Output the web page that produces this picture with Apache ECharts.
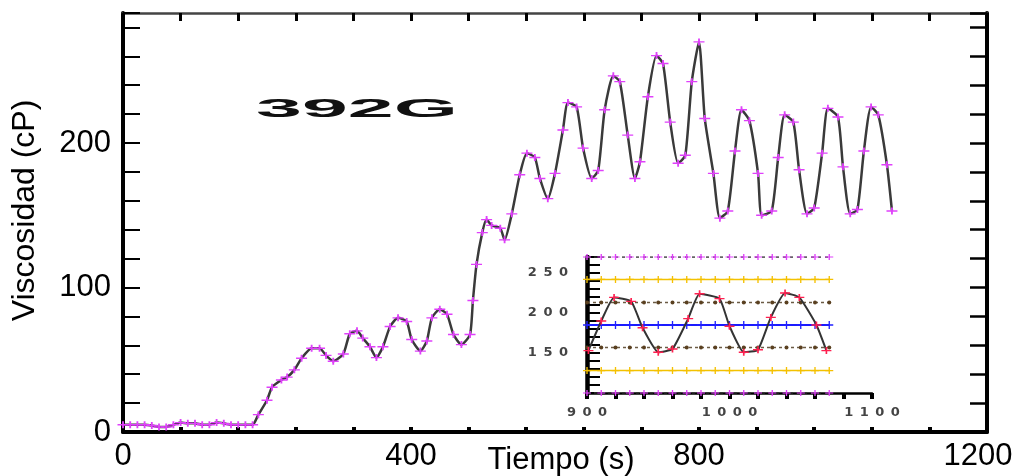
<!DOCTYPE html>
<html>
<head>
<meta charset="utf-8">
<script src="https://cdn.jsdelivr.net/npm/echarts@6/dist/echarts.min.js"></script>
<style>
html,body{margin:0;padding:0;background:#fff;}
#chart{width:1017px;height:476px;}
</style>
</head>
<body>
<div id="chart"></div>
<script>
// ---- data ----
const mainTime = [0,10,20,30,40,50,60,70,80,90,100,110,120,130,140,150,160,170,180,188,200,207,220,228,238,248,262,273,282,292,306,315,325,333,343,352,361,371,382,394,401,413,422,429,440,450,459,470,482,486,491,499,505,512,524,530,540,551,561,572,579,590,600,611,618,630,639,651,660,669,681,690,701,711,718,729,741,750,760,771,781,790,800,808,820,829,840,850,859,870,882,887,901,910,919,931,939,950,960,971,979,993,1000,1010,1020,1029,1039,1049,1061,1068];
const mainVisc = [5,5,5,5,4.5,3.5,3.5,5,6.5,6,6,5,5,6.5,6,5,5,5,5,12,22,31,36,38,43,51,58,58,53,49,54,68,70,65,59,51.5,59,73,79,76.5,64,56,63,79,85,81.5,67.5,60.5,67.5,91,116,138,147,143,141,133,151,178,193,190,175.5,161.5,179,209,228,225,196.5,175.5,181,223,246.5,242.5,205.5,175.5,187,232,260.5,255,214.5,186,191.5,242.5,270,217,179,148,153,194.5,223,215.5,179,150,153,190,219.5,214.5,181.5,151,155,193,224,218,183.5,151,154,194.5,225,219.5,185,153];
const insetStart = 900;
const refTimes = [900,910,920,930,940,950,960,970,980,990,1000,1010,1020,1030,1040,1050,1060,1070];
const refLevels = [270,242,213,185,157,128,100];
const xLabels = [0,400,800,1200];
const yLabels = [0,100,200];
const insetXLabels = [900,1000,1100];
const insetYLabels = [150,200,250];
const titleText = '392G';
const xName = 'Tiempo (s)';
const yName = 'Viscosidad (cP)';

// ---- build ----
const mainData = mainTime.map((t,i)=>[t, mainVisc[i]]);
const insetData = mainData.filter(d=>d[0]>=insetStart);
const plus = 'path://M0,4h12v2h-12z M5,0h2v10h-2z';
const refStyles = [
  {line:'#333', type:[3,4], w:1.5, sym:plus, symColor:'#e040fb', size:[8,6]},
  {line:'#f2c200', type:'solid', w:1.5, sym:plus, symColor:'#f5c000', size:[8,7]},
  {line:'#6b5b45', type:[3,3], w:1.5, sym:'circle', symColor:'#5a4020', size:4},
  {line:'#1a1aff', type:'solid', w:2, sym:plus, symColor:'#2020ff', size:[8,8]},
  {line:'#6b5b45', type:[3,3], w:1.5, sym:'circle', symColor:'#5a4020', size:4},
  {line:'#f2c200', type:'solid', w:1.5, sym:plus, symColor:'#f5c000', size:[8,7]},
  {line:'#333', type:[3,4], w:1.5, sym:plus, symColor:'#e040fb', size:[8,6]}
];
const refSeries = refLevels.map((lv,i)=>({
  type:'line', xAxisIndex:2, yAxisIndex:2,
  data: refTimes.map(t=>[t, lv]),
  lineStyle:{color:refStyles[i].line, width:refStyles[i].w, type:refStyles[i].type},
  symbol: refStyles[i].sym, symbolSize: refStyles[i].size, showAllSymbol:true,
  itemStyle:{color:refStyles[i].symColor}, silent:true, animation:false, z:2
}));
const spaced = v => String(v).split('').join('\u2002');
const FONT = '"Liberation Sans", Arial, sans-serif';

const chart = echarts.init(document.getElementById('chart'), null, {renderer:'canvas'});
chart.setOption({
  animation:false,
  backgroundColor:'#fff',
  grid:[
    {left:123, top:13, width:864, height:419, containLabel:false, outerBoundsMode:'none'},
    {left:587, top:257, width:285, height:136, containLabel:false, outerBoundsMode:'none'}
  ],
  xAxis:[
    {type:'value', gridIndex:0, position:'bottom', min:0, max:1200, interval:80,
     axisLine:{onZero:false, lineStyle:{color:'#000', width:4}},
     axisTick:{inside:true, length:5, lineStyle:{color:'#000', width:4}},
     axisLabel:{margin:9, fontSize:31, fontFamily:FONT, color:'#000', hideOverlap:false,
       formatter:v=> xLabels.includes(v) ? (v===1200 ? '{r|'+v+'}' : String(v)) : '',
       rich:{r:{fontSize:31, fontFamily:FONT, color:'#000', padding:[0,18,0,0]}}},
     splitLine:{show:false},
     name:xName, nameLocation:'middle', nameGap:13, nameMoveOverlap:false,
     nameTextStyle:{fontSize:31, fontFamily:FONT, color:'#000', padding:[0,0,0,12]}},
    {type:'value', gridIndex:0, position:'top', min:0, max:1200, interval:80,
     axisLine:{onZero:false, lineStyle:{color:'#444', width:2.5}},
     axisTick:{inside:true, length:8, lineStyle:{color:'#000', width:3}},
     axisLabel:{show:false}, splitLine:{show:false}},
    {type:'value', gridIndex:1, position:'bottom', min:900, max:1100, interval:20,
     axisLine:{onZero:false, lineStyle:{color:'#000', width:2.5}},
     axisTick:{inside:false, length:6, lineStyle:{color:'#000', width:4}},
     axisLabel:{margin:13, fontSize:13, fontWeight:'bold', fontFamily:'"DejaVu Sans", sans-serif', color:'#444',
       formatter:v=> insetXLabels.includes(v) ? spaced(v) : ''},
     splitLine:{show:false}}
  ],
  yAxis:[
    {type:'value', gridIndex:0, position:'left', min:0, max:290, interval:20,
     axisLine:{onZero:false, lineStyle:{color:'#000', width:4}},
     axisTick:{inside:true, length:17, lineStyle:{color:'#000', width:2}},
     axisLabel:{margin:12, fontSize:31, fontFamily:FONT, color:'#000',
       formatter:v=> yLabels.includes(v) ? String(v) : ''},
     splitLine:{show:false},
     name:yName, nameLocation:'middle', nameGap:82, nameRotate:90, nameMoveOverlap:false,
     nameTextStyle:{fontSize:32, fontFamily:FONT, color:'#000', padding:[0,0,0,24]}},
    {type:'value', gridIndex:0, position:'right', min:0, max:290, interval:20,
     axisLine:{onZero:false, lineStyle:{color:'#000', width:4}},
     axisTick:{inside:true, length:17, lineStyle:{color:'#000', width:2.5}},
     axisLabel:{show:false}, splitLine:{show:false}},
    {type:'value', gridIndex:1, position:'left', min:100, max:270, interval:10,
     axisLine:{onZero:false, lineStyle:{color:'#000', width:4.5}},
     axisTick:{inside:true, length:13, lineStyle:{color:'#000', width:2}},
     axisLabel:{margin:19, fontSize:13, fontWeight:'bold', fontFamily:'"DejaVu Sans", sans-serif', color:'#444',
       formatter:v=> insetYLabels.includes(v) ? spaced(v) : ''},
     splitLine:{show:false}}
  ],
  graphic:[
    {type:'text', x:357, y:110, scaleX:3.3, scaleY:1,
     style:{text:titleText, font:'bold 25px '+FONT, fill:'#111',
       textAlign:'center', textVerticalAlign:'middle', verticalAlign:'middle'}, z:10}
  ],
  series:[
    {type:'line', xAxisIndex:0, yAxisIndex:0, data:mainData,
     smooth:0.2, lineStyle:{color:'#3a3a3a', width:2.5},
     symbol:plus, symbolSize:[11,7], showAllSymbol:true,
     itemStyle:{color:'#e040fb'}, z:3},
    ...refSeries,
    {type:'line', xAxisIndex:2, yAxisIndex:2, data:insetData,
     smooth:0.15, lineStyle:{color:'#333', width:2},
     symbol:plus, symbolSize:[10,7], showAllSymbol:true,
     itemStyle:{color:'#ff2050'}, z:5}
  ]
});
</script>
</body>
</html>
